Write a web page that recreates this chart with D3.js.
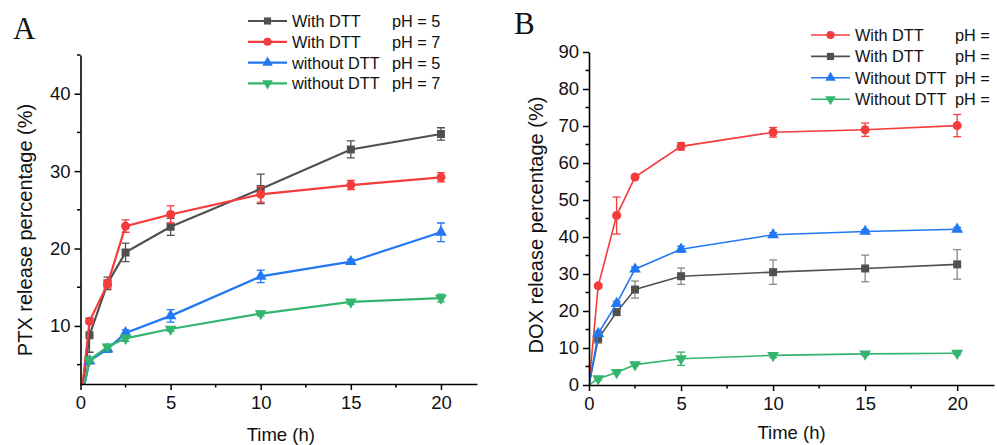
<!DOCTYPE html>
<html>
<head>
<meta charset="utf-8">
<script src="https://cdn.jsdelivr.net/npm/d3@7"></script>
<style>
  body { margin: 0; background: #fff; }
  svg { display: block; font-family: "Liberation Sans", Arial, sans-serif; }
</style>
</head>
<body>
<script>
// time points (h)
var times = [0, 0.5, 1.5, 2.5, 5, 10, 15, 20];

// panel A: PTX release (%)
var aWithPH5 = [0, 8.8, 15.5, 19.5, 22.8, 27.7, 32.8, 34.8];
var aWithPH5Err = [0, 2.2, 0.8, 1.2, 1.1, 1.9, 1.1, 0.8];
var aWithPH7 = [0, 10.6, 15.4, 22.9, 24.4, 27.0, 28.2, 29.2];
var aWithPH7Err = [0, 0.3, 0.5, 0.8, 1.1, 1.0, 0.6, 0.6];
var aWithoutPH5 = [0, 5.5, 7.0, 9.1, 11.3, 16.4, 18.3, 22.1];
var aWithoutPH5Err = [0, 0.4, 0.4, 0.4, 0.8, 0.8, 0.3, 1.2];
var aWithoutPH7 = [0, 5.6, 7.3, 8.4, 9.6, 11.6, 13.1, 13.6];
var aWithoutPH7Err = [0, 0.3, 0.3, 0.4, 0.3, 0.3, 0.3, 0.5];

// panel B: DOX release (%)
var bWithRed = [0, 26.8, 45.8, 56.2, 64.5, 68.3, 69.0, 70.1];
var bWithRedErr = [0, 0.5, 5.0, 0.5, 1.0, 1.3, 1.8, 3.0];
var bWithGray = [0, 12.5, 19.7, 25.8, 29.4, 30.5, 31.5, 32.6];
var bWithGrayErr = [0, 1.2, 0.8, 2.3, 2.2, 3.3, 3.6, 4.0];
var bWithoutBlue = [0, 13.9, 22.0, 31.3, 36.7, 40.6, 41.5, 42.1];
var bWithoutBlueErr = [0, 0.6, 0.6, 0.6, 0.8, 0.6, 0.5, 0.5];
var bWithoutGreen = [0, 1.7, 3.4, 5.5, 7.1, 8.0, 8.4, 8.6];
var bWithoutGreenErr = [0, 0.3, 0.3, 0.3, 1.8, 0.6, 0.4, 0.4];

var legendA = [["With DTT", "pH = 5"], ["With DTT", "pH = 7"], ["without DTT", "pH = 5"], ["without DTT", "pH = 7"]];
var legendB = [["With DTT", "pH ="], ["With DTT", "pH ="], ["Without DTT", "pH ="], ["Without DTT", "pH ="]];

var gray = "#505050", red = "#f53c3c", blue = "#2277f2", green = "#33b56e";

var width = 997, height = 445;
var svg = d3.select("body").append("svg")
  .attr("width", width)
  .attr("height", height);

function buildSeries(vals, errs) {
  return times.map(function (t, i) { return { t: t, v: vals[i], e: errs[i] }; });
}

function drawPanel(opt) {
  var x = opt.x, y = opt.y;
  var g = svg.append("g");

  var clipId = "clip" + opt.id;
  svg.append("clipPath").attr("id", clipId)
    .append("rect")
    .attr("x", x.range()[0]).attr("y", y.range()[1] - 20)
    .attr("width", x.range()[1] - x.range()[0] + 10)
    .attr("height", y.range()[0] - y.range()[1] + 20);

  var plot = g.append("g").attr("clip-path", "url(#" + clipId + ")");

  opt.series.forEach(function (s) {
    var data = buildSeries(s.vals, s.errs);
    var line = d3.line().x(function (d) { return x(d.t); }).y(function (d) { return y(d.v); });
    plot.append("path").datum(data)
      .attr("fill", "none")
      .attr("stroke", s.color)
      .attr("stroke-width", opt.lineWidth)
      .attr("d", line);

    var pts = data.filter(function (d) { return d.t > 0; });
    var eb = plot.append("g").attr("stroke", s.errColor || s.color).attr("stroke-width", 1.3);
    pts.forEach(function (d) {
      if (!d.e) return;
      var cx = x(d.t);
      eb.append("line").attr("x1", cx).attr("x2", cx).attr("y1", y(d.v - d.e)).attr("y2", y(d.v + d.e));
      eb.append("line").attr("x1", cx - 4).attr("x2", cx + 4).attr("y1", y(d.v - d.e)).attr("y2", y(d.v - d.e));
      eb.append("line").attr("x1", cx - 4).attr("x2", cx + 4).attr("y1", y(d.v + d.e)).attr("y2", y(d.v + d.e));
    });

    plot.selectAll(null).data(pts).enter().append("path")
      .attr("d", d3.symbol().type(s.symbol).size(s.size))
      .attr("fill", s.color)
      .attr("transform", function (d) {
        return "translate(" + x(d.t) + "," + y(d.v) + ")" + (s.down ? " rotate(180)" : "");
      });
  });

  // axes
  var xAxis = g.append("g").attr("transform", "translate(0," + y.range()[0] + ")")
    .call(d3.axisBottom(x).tickValues([0, 5, 10, 15, 20]).tickSize(6).tickPadding(6).tickSizeOuter(0));
  g.append("g").attr("transform", "translate(0," + y.range()[0] + ")")
    .selectAll("line").data([2.5, 7.5, 12.5, 17.5]).enter().append("line")
    .attr("x1", function (d) { return x(d); }).attr("x2", function (d) { return x(d); })
    .attr("y1", 0).attr("y2", 3.5).attr("stroke", "#000").attr("stroke-width", 1.5);

  var yAxis = g.append("g").attr("transform", "translate(" + x.range()[0] + ",0)")
    .call(d3.axisLeft(y).tickValues(opt.yTicks).tickSize(6).tickPadding(4).tickSizeOuter(0));
  g.append("g").attr("transform", "translate(" + x.range()[0] + ",0)")
    .selectAll("line").data(opt.yMinor).enter().append("line")
    .attr("x1", 0).attr("x2", -3.5)
    .attr("y1", function (d) { return y(d); }).attr("y2", function (d) { return y(d); })
    .attr("stroke", "#000").attr("stroke-width", 1.5);

  [xAxis, yAxis].forEach(function (a) {
    a.select(".domain").attr("stroke-width", 1.6);
    a.selectAll(".tick line").attr("stroke-width", 1.5);
    a.selectAll("text").attr("font-size", 18.5).attr("fill", "#111")
      .attr("font-family", "Liberation Sans, Arial, sans-serif");
  });

  // titles
  g.append("text")
    .attr("x", (x.range()[0] + x.range()[1]) / 2 + opt.xTitleDx)
    .attr("y", opt.xTitleY)
    .attr("text-anchor", "middle").attr("font-size", 18.5).attr("fill", "#111")
    .text("Time (h)");
  g.append("text")
    .attr("transform", "translate(" + opt.yTitleX + "," + opt.yTitleY + ") rotate(-90)")
    .attr("text-anchor", "middle").attr("font-size", 20).attr("fill", "#111")
    .text(opt.yTitle);

  g.append("text")
    .attr("x", opt.letterX).attr("y", opt.letterY)
    .attr("font-family", "Liberation Serif, Times New Roman, serif")
    .attr("font-size", 31).attr("fill", "#111")
    .text(opt.letter);

  // legend
  var lg = g.append("g");
  opt.series.forEach(function (s, i) {
    var ly = opt.legY + i * opt.legStep;
    lg.append("line").attr("x1", opt.legX).attr("x2", opt.legX + 39)
      .attr("y1", ly).attr("y2", ly).attr("stroke", s.color).attr("stroke-width", opt.lineWidth);
    lg.append("path")
      .attr("d", d3.symbol().type(s.symbol).size(s.size * 0.8))
      .attr("fill", s.color)
      .attr("transform", "translate(" + (opt.legX + 19.5) + "," + ly + ")" + (s.down ? " rotate(180)" : ""));
    lg.append("text").attr("x", opt.legX + 44).attr("y", ly + 6)
      .attr("font-size", 16.3).attr("fill", "#111").text(opt.legend[i][0]);
    lg.append("text").attr("x", opt.legX + opt.phDx).attr("y", ly + 6)
      .attr("font-size", 16.3).attr("fill", "#111").text(opt.legend[i][1]);
  });
}

drawPanel({
  id: "A",
  x: d3.scaleLinear().domain([0, 22]).range([80.5, 477]),
  y: d3.scaleLinear().domain([2.5, 45]).range([384, 55]),
  yTicks: [10, 20, 30, 40],
  yMinor: [5, 15, 25, 35, 45],
  lineWidth: 2.2,
  series: [
    { vals: aWithPH5, errs: aWithPH5Err, color: gray, symbol: d3.symbolSquare, size: 64 },
    { vals: aWithPH7, errs: aWithPH7Err, color: red, symbol: d3.symbolCircle, size: 64 },
    { vals: aWithoutPH5, errs: aWithoutPH5Err, color: blue, symbol: d3.symbolTriangle, size: 60 },
    { vals: aWithoutPH7, errs: aWithoutPH7Err, color: green, symbol: d3.symbolTriangle, size: 60, down: true }
  ],
  legend: legendA,
  legX: 248, legY: 21, legStep: 20.8, phDx: 144,
  xTitleDx: 2, xTitleY: 441,
  yTitle: "PTX release percentage (%)", yTitleX: 32, yTitleY: 230,
  letter: "A", letterX: 13, letterY: 39
});

drawPanel({
  id: "B",
  x: d3.scaleLinear().domain([0, 22]).range([589, 994]),
  y: d3.scaleLinear().domain([0, 90]).range([385, 52]),
  yTicks: [0, 10, 20, 30, 40, 50, 60, 70, 80, 90],
  yMinor: [5, 15, 25, 35, 45, 55, 65, 75, 85],
  lineWidth: 1.6,
  series: [
    { vals: bWithRed, errs: bWithRedErr, color: red, symbol: d3.symbolCircle, size: 64 },
    { vals: bWithGray, errs: bWithGrayErr, color: gray, errColor: "#8a8a8a", symbol: d3.symbolSquare, size: 64 },
    { vals: bWithoutBlue, errs: bWithoutBlueErr, color: blue, symbol: d3.symbolTriangle, size: 60 },
    { vals: bWithoutGreen, errs: bWithoutGreenErr, color: green, symbol: d3.symbolTriangle, size: 60, down: true }
  ],
  legend: legendB,
  legX: 811, legY: 35, legStep: 21.4, phDx: 144,
  xTitleDx: 0, xTitleY: 439,
  yTitle: "DOX release percentage (%)", yTitleX: 543, yTitleY: 225,
  letter: "B", letterX: 514, letterY: 34
});
</script>
</body>
</html>
